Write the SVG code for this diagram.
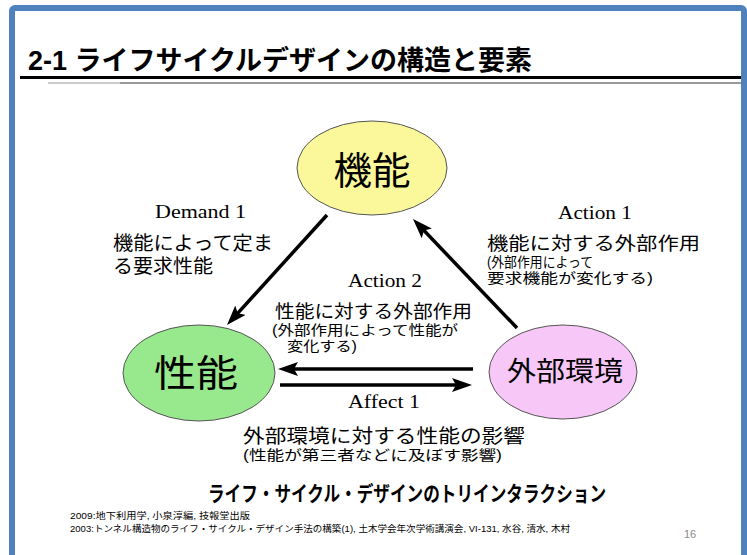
<svg xmlns="http://www.w3.org/2000/svg" width="747" height="555" viewBox="0 0 747 555">
<style>
.jp{font-family:"Liberation Sans","Noto Sans CJK JP","Noto Sans CJK SC",sans-serif;fill:#000}
.en{font-family:"Liberation Serif","Times New Roman",serif;font-size:18px;fill:#000}
.node{stroke:#555;stroke-width:1}
.conn{stroke:#000;stroke-width:3.5;fill:none;marker-end:url(#ah)}
</style>
<defs>
<marker id="ah" viewBox="0 0 20 14" refX="14" refY="7" markerWidth="20" markerHeight="14" markerUnits="userSpaceOnUse" orient="auto">
<path d="M0,0 L20,7 L0,14 L4,7 z" fill="#000"/>
</marker>
</defs>
<rect x="0" y="0" width="747" height="555" fill="#fff"/>
<rect x="12" y="8" width="732" height="600" rx="3" fill="#fff" stroke="#4f81bd" stroke-width="6"/>
<g id="title">
<text class="jp" x="28" y="70" font-size="27" font-weight="bold" textLength="504" lengthAdjust="spacingAndGlyphs">2-1 ライフサイクルデザインの構造と要素</text>
<rect x="20" y="76" width="721" height="3" fill="#000"/>
<rect x="48" y="82" width="72" height="2" fill="#ccc"/>
<rect x="120" y="82" width="621" height="2" fill="#999"/>
</g>
<g id="connectors">
<line class="conn" x1="327" y1="215" x2="231" y2="320.6"/>
<line class="conn" x1="517" y1="328" x2="417.1" y2="223.3"/>
<line class="conn" x1="473" y1="369" x2="284" y2="369"/>
<line class="conn" x1="280" y1="385" x2="466" y2="385"/>
</g>
<g id="node-kinou">
<ellipse class="node" cx="372" cy="168" rx="75" ry="47" fill="#fbf89c"/>
<text class="jp" x="372" y="184" font-size="38" text-anchor="middle" textLength="77" lengthAdjust="spacingAndGlyphs">機能</text>
</g>
<g id="node-seinou">
<ellipse class="node" cx="199" cy="373" rx="76" ry="48" fill="#98e88e"/>
<text class="jp" x="196" y="387" font-size="37" text-anchor="middle" textLength="84" lengthAdjust="spacingAndGlyphs">性能</text>
</g>
<g id="node-gaibu">
<ellipse class="node" cx="563" cy="372" rx="74" ry="47" fill="#f7c8f7"/>
<text class="jp" x="565" y="381" font-size="27" text-anchor="middle" textLength="116" lengthAdjust="spacingAndGlyphs">外部環境</text>
</g>
<g id="labels">
<text class="en" x="155" y="218" textLength="91" lengthAdjust="spacingAndGlyphs">Demand 1</text>
<text class="jp" x="113" y="250" font-size="19" textLength="160" lengthAdjust="spacingAndGlyphs">機能によって定ま</text>
<text class="jp" x="113" y="273" font-size="19" textLength="100" lengthAdjust="spacingAndGlyphs">る要求性能</text>
<text class="en" x="348" y="287" textLength="74" lengthAdjust="spacingAndGlyphs">Action 2</text>
<text class="jp" x="275" y="318" font-size="18" textLength="197" lengthAdjust="spacingAndGlyphs">性能に対する外部作用</text>
<text class="jp" x="272" y="335" font-size="14" textLength="186" lengthAdjust="spacingAndGlyphs">(外部作用によって性能が</text>
<text class="jp" x="287" y="351" font-size="14" textLength="70" lengthAdjust="spacingAndGlyphs">変化する)</text>
<text class="en" x="558" y="219" textLength="74" lengthAdjust="spacingAndGlyphs">Action 1</text>
<text class="jp" x="487" y="250" font-size="18" textLength="213" lengthAdjust="spacingAndGlyphs">機能に対する外部作用</text>
<text class="jp" x="487" y="267" font-size="14" textLength="106" lengthAdjust="spacingAndGlyphs">(外部作用によって</text>
<text class="jp" x="487" y="283" font-size="14" textLength="166" lengthAdjust="spacingAndGlyphs">要求機能が変化する)</text>
<text class="en" x="348" y="408" textLength="72" lengthAdjust="spacingAndGlyphs">Affect 1</text>
<text class="jp" x="243" y="443" font-size="19" textLength="282" lengthAdjust="spacingAndGlyphs">外部環境に対する性能の影響</text>
<text class="jp" x="243" y="460" font-size="14" textLength="259" lengthAdjust="spacingAndGlyphs">(性能が第三者などに及ぼす影響)</text>
</g>
<g id="footer">
<text class="jp" x="208" y="501" font-size="21" font-weight="bold" textLength="398" lengthAdjust="spacingAndGlyphs">ライフ・サイクル・デザインのトリインタラクション</text>
<text class="jp" x="70" y="519" font-size="9" textLength="180" lengthAdjust="spacingAndGlyphs">2009:地下利用学, 小泉淳編, 技報堂出版</text>
<text class="jp" x="70" y="532" font-size="9" textLength="500" lengthAdjust="spacingAndGlyphs">2003:トンネル構造物のライフ・サイクル・デザイン手法の構築(1), 土木学会年次学術講演会, VI-131, 水谷, 清水, 木村</text>
<text x="684" y="538" font-family="Liberation Sans, sans-serif" font-size="11" fill="#888">16</text>
</g>
</svg>
